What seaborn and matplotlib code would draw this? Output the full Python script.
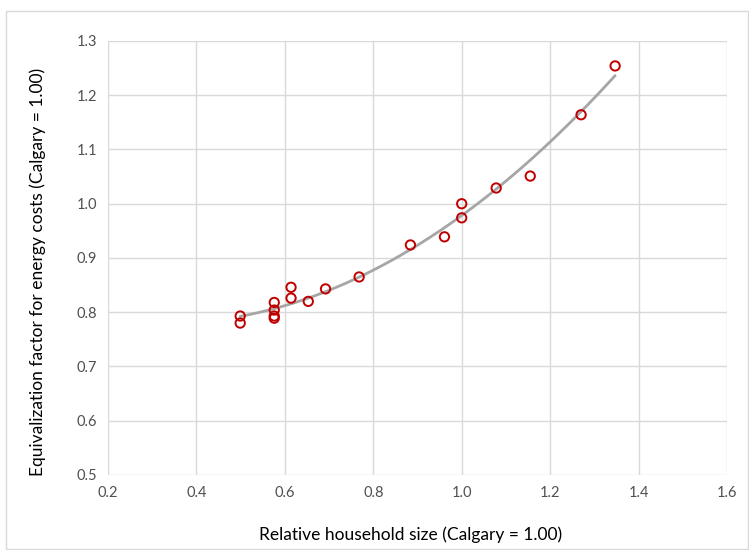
import numpy as np
import pandas as pd
import seaborn as sns
import matplotlib.pyplot as plt
from matplotlib.patches import Rectangle

# relative household size vs equivalization factor
household_size = [0.499, 0.499, 0.576, 0.576, 0.576, 0.576, 0.614, 0.614,
                  0.653, 0.692, 0.768, 0.884, 0.961, 1.000, 1.000, 1.078,
                  1.155, 1.270, 1.347]
energy_factor = [0.793, 0.780, 0.818, 0.804, 0.793, 0.789, 0.846, 0.826,
                 0.820, 0.843, 0.865, 0.924, 0.939, 1.000, 0.974, 1.029,
                 1.051, 1.164, 1.254]

x_ticks = [0.2, 0.4, 0.6, 0.8, 1.0, 1.2, 1.4, 1.6]
y_ticks = [0.5, 0.6, 0.7, 0.8, 0.9, 1.0, 1.1, 1.2, 1.3]

df = pd.DataFrame({'size': household_size, 'factor': energy_factor})

sns.set_style('white')
plt.rcParams['font.family'] = ['Lato', 'DejaVu Sans']

fig = plt.figure(figsize=(7.49, 5.5), dpi=100)
ax = fig.add_axes([0.1442, 0.1364, 0.8264, 0.7891])

# 2nd order polynomial trendline like the spreadsheet one
coef = np.polyfit(df['size'], df['factor'], 2)
xs = np.linspace(df['size'].min(), df['size'].max(), 200)
trend = pd.DataFrame({'size': xs, 'factor': np.polyval(coef, xs)})
sns.lineplot(data=trend, x='size', y='factor', ax=ax, color='#A6A6A6',
             linewidth=2, zorder=2)

sns.scatterplot(data=df, x='size', y='factor', ax=ax, s=45,
                facecolor='none', edgecolor='#C00000', linewidth=1.4,
                zorder=3)

ax.set_xlim(0.2, 1.6)
ax.set_ylim(0.5, 1.3)
ax.set_xticks(x_ticks)
ax.set_yticks(y_ticks)
ax.set_xticklabels(['{:.1f}'.format(t) for t in x_ticks])
ax.set_yticklabels(['{:.1f}'.format(t) for t in y_ticks])
ax.grid(True, color='#D9D9D9', linewidth=1)
ax.set_axisbelow(True)
for s in ax.spines.values():
    s.set_visible(False)
ax.tick_params(axis='both', length=0, labelsize=10.5, colors='#505050', pad=8)

ax.set_xlabel('Relative household size (Calgary = 1.00)', fontsize=12.5,
              color='black')
ax.set_ylabel('Equivalization factor for energy costs (Calgary = 1.00)',
              fontsize=12.5, color='black')
ax.xaxis.set_label_coords(0.488, -0.118)
ax.yaxis.set_label_coords(-0.1, 0.468)

# chart area border
fig.patches.append(Rectangle((6 / 749, 0.002), 742 / 749, 1 - 11 / 550 - 0.002,
                             transform=fig.transFigure, fill=False,
                             edgecolor='#D9D9D9', linewidth=1))

fig.savefig('out.png', dpi=100)
